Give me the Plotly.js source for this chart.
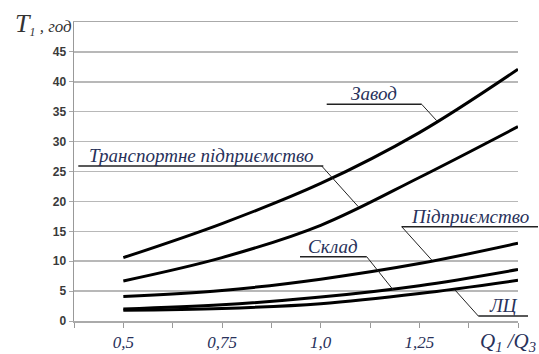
<!DOCTYPE html>
<html><head><meta charset="utf-8">
<script src="https://cdn.plot.ly/plotly-3.0.1.min.js"></script>
<style>html,body{margin:0;padding:0;background:#fff}#c{width:539px;height:354px}</style>
</head><body><div id="c"></div>
<script>
var xVals = [0.5, 0.75, 1.0, 1.25, 1.5];
var zavod = [10.6, 16.3, 23.0, 31.5, 42.1];
var transport = [6.7, 10.6, 16.0, 24.0, 32.5];
var pidpryemstvo = [4.1, 5.1, 7.0, 9.6, 13.0];
var sklad = [2.0, 2.7, 4.0, 5.9, 8.6];
var lts = [1.8, 2.1, 2.9, 4.6, 6.8];
var seriesNames = ['Завод', 'Транспортне підприємство', 'Підприємство', 'Склад', 'ЛЦ'];
var xTickVals = [0.5, 0.75, 1.0, 1.25];
var xTickText = ['0,5', '0,75', '1,0', '1,25'];
var yTickVals = [0, 5, 10, 15, 20, 25, 30, 35, 40, 45];
var yTickText = ['0', '5', '10', '15', '20', '25', '30', '35', '40', '45'];

var allY = [zavod, transport, pidpryemstvo, sklad, lts];
var traces = allY.map(function (ys, i) {
  return {x: xVals, y: ys, name: seriesNames[i], type: 'scatter', mode: 'lines',
    line: {color: '#000', width: 3, shape: 'spline', smoothing: 1}, showlegend: false};
});

var L = 74, R = 518, T = 22, B = 321;
function PX(p) { return (p - L) / (R - L); }
function PY(p) { return (B - p) / (B - T); }
var navy = '#28315a';
var SERIF = 'Liberation Serif, DejaVu Serif, serif';
var lblFont = {family: SERIF, size: 19, color: navy, style: 'italic'};

var labels = [
  {text: 'Завод', ul: [326.7, 421.7, 104.3], lead: [421.7, 104.3, 436.7, 120.7]},
  {text: 'Транспортне підприємство', ul: [78.3, 323.3, 166], lead: [321.7, 166, 358.3, 206.7]},
  {text: 'Підприємство', ul: [401.7, 538, 226.7], lead: [401.7, 226.7, 431.7, 260]},
  {text: 'Склад', ul: [300, 366.7, 256.7], lead: [366.7, 256.7, 393.3, 290]},
  {text: 'ЛЦ', ul: [478.3, 528, 316], lead: [478.3, 316, 455, 290]}
];
var shapes = [], annotations = [];
labels.forEach(function (lb) {
  shapes.push({type: 'line', xref: 'paper', yref: 'paper', x0: PX(lb.ul[0]), x1: PX(lb.ul[1]),
    y0: PY(lb.ul[2]), y1: PY(lb.ul[2]), line: {color: '#222', width: 1.5}});
  shapes.push({type: 'line', xref: 'paper', yref: 'paper', x0: PX(lb.lead[0]), y0: PY(lb.lead[1]),
    x1: PX(lb.lead[2]), y1: PY(lb.lead[3]), line: {color: '#222', width: 1}});
  annotations.push({xref: 'paper', yref: 'paper', x: PX((lb.ul[0] + lb.ul[1]) / 2), y: PY(lb.ul[2]),
    xanchor: 'center', yanchor: 'bottom', yshift: -2, showarrow: false, text: lb.text, font: lblFont});
});
annotations.push({xref: 'paper', yref: 'paper', x: PX(13), y: PY(24), xanchor: 'left', yanchor: 'middle',
  showarrow: false, text: '<span style="font-size:26px">T</span><sub>1</sub> , год',
  font: {family: SERIF, size: 17, color: '#333', style: 'italic'}});
annotations.push({xref: 'paper', yref: 'paper', x: PX(478), y: PY(342), xanchor: 'left', yanchor: 'middle',
  showarrow: false, text: 'Q<sub>1</sub> /Q<sub>3</sub>',
  font: {family: SERIF, size: 21, color: navy, style: 'italic'}});

var layout = {
  width: 539, height: 354,
  margin: {l: L, r: 539 - R, t: T, b: 354 - B, pad: 0},
  paper_bgcolor: '#fff', plot_bgcolor: '#fff',
  xaxis: {range: [0.375, 1.5], tickvals: xTickVals, ticktext: xTickText, ticks: 'outside',
    ticklen: 5, tickcolor: '#999', showgrid: false, zeroline: false, showline: true, mirror: true,
    linecolor: '#aaa', linewidth: 1.5,
    minor: {ticks: 'outside', tick0: 0.375, dtick: 0.125, ticklen: 5, tickcolor: '#999', showgrid: false},
    tickfont: {family: SERIF, size: 17, color: navy, style: 'italic'}},
  yaxis: {range: [0, 50], tickvals: yTickVals, ticktext: yTickText, ticks: 'outside', ticklen: 4,
    tickcolor: '#aaa', showgrid: true, gridcolor: '#b8b8b8', gridwidth: 1.5, zeroline: false,
    showline: true, linecolor: '#999', linewidth: 1.5,
    tickfont: {family: 'Liberation Sans, Arial, sans-serif', size: 12, color: '#3a3a3a', weight: 'bold'}},
  shapes: shapes, annotations: annotations
};
Plotly.newPlot('c', traces, layout, {staticPlot: true, displayModeBar: false});
</script></body></html>
